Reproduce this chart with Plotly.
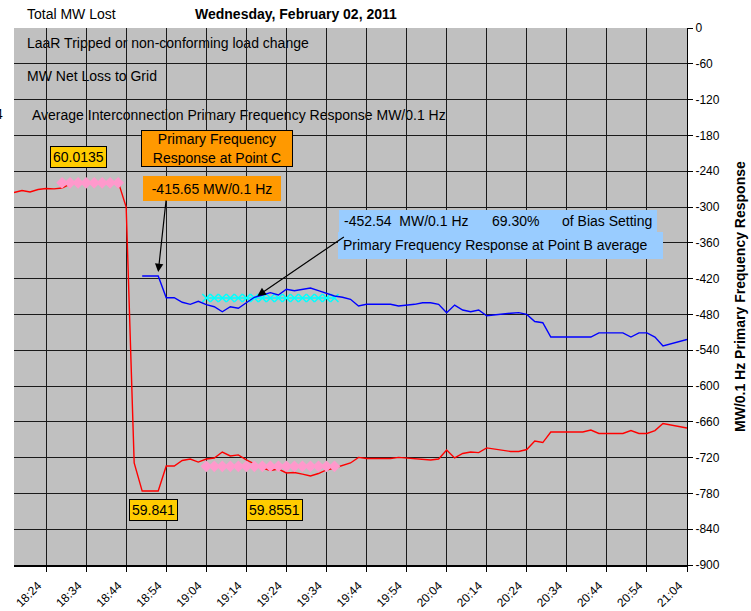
import plotly.graph_objects as go

# sample times, seconds after 18:24 (one sample every 2 s)
t = list(range(-8, 161, 2))

tick_vals = list(range(0, 161, 10))
tick_text = ['18:24', '18:34', '18:44', '18:54', '19:04', '19:14', '19:24', '19:34', '19:44',
             '19:54', '20:04', '20:14', '20:24', '20:34', '20:44', '20:54', '21:04']

# interconnection frequency (Hz), left axis (cut off in the picture)
freq = [60.0081, 60.0092, 60.0084, 60.0098, 60.0103, 60.0101, 60.0106, 60.0128,
        60.0134, 60.0137, 60.0140, 60.0140, 60.0142, 60.0142,
        60.0000, 59.8570, 59.8413, 59.8413, 59.8413, 59.8553, 59.8553, 59.8584,
        59.8592, 59.8575, 59.8592, 59.8598, 59.8631, 59.8609, 59.8615, 59.8587,
        59.8564, 59.8542, 59.8528, 59.8536, 59.8514, 59.8517, 59.8508, 59.8497,
        59.8511, 59.8531, 59.8542, 59.8556, 59.8570, 59.8601, 59.8595, 59.8595,
        59.8595, 59.8595, 59.8601, 59.8598, 59.8595, 59.8589, 59.8587, 59.8592,
        59.8642, 59.8598, 59.8623, 59.8631, 59.8628, 59.8654, 59.8648, 59.8642,
        59.8634, 59.8634, 59.8645, 59.8693, 59.8684, 59.8743, 59.8743, 59.8743,
        59.8743, 59.8743, 59.8754, 59.8735, 59.8735, 59.8735, 59.8735, 59.8751,
        59.8735, 59.8735, 59.8751, 59.8790, 59.8782, 59.8774, 59.8765]

# primary frequency response (MW/0.1 Hz), right axis
resp_t = t[16:]
resp = [-415.65, -415.65, -415.65, -452.0, -452.0, -459.7, -463.1, -458.1, -463.7,
        -467.1, -475.5, -467.1, -469.8, -460.4, -451.3, -447.5, -443.6, -447.5,
        -437.9, -440.3, -437.9, -435.8, -440.3, -444.6, -449.2, -451.3, -454.7,
        -465.9, -463.1, -463.1, -463.1, -463.1, -465.9, -464.8, -463.1, -460.4,
        -460.4, -463.1, -477.2, -464.3, -472.6, -475.5, -472.6, -482.2, -480.5,
        -479.0, -478.0, -477.0, -480.0, -492.0, -494.0, -518.0, -518.0, -518.0,
        -518.0, -518.0, -518.0, -511.0, -511.0, -511.0, -511.0, -518.0, -511.0,
        -511.0, -518.0, -533.0, -529.0, -525.5, -522.0]

# averaging windows
pre_t = [4, 6, 8, 10, 12, 14, 16, 18]
pre_avg = 60.0135
post_t = [40, 42, 44, 46, 48, 50, 52, 54, 56, 58, 60, 62, 64, 66, 68, 70, 72]
post_avg = 59.8551
point_b = -452.54
point_c = -415.65

y_vals = list(range(0, -901, -60))

FONT = "Arial, 'Liberation Sans', sans-serif"
L, R, T, B = 14, 687, 28, 565


def px(x):
    return (x - L) / (R - L)


def py(y):
    return (B - y) / (B - T)


fig = go.Figure()

fig.add_trace(go.Scatter(x=t, y=freq, yaxis='y2', mode='lines',
                         line=dict(color='#FF0000', width=1.4)))
fig.add_trace(go.Scatter(x=pre_t, y=[pre_avg] * len(pre_t), yaxis='y2', mode='lines+markers',
                         line=dict(color='#FF99CC', width=2),
                         marker=dict(symbol='diamond', size=9, color='#FF99CC')))
fig.add_trace(go.Scatter(x=post_t, y=[post_avg] * len(post_t), yaxis='y2', mode='lines+markers',
                         line=dict(color='#FF99CC', width=2),
                         marker=dict(symbol='diamond', size=9, color='#FF99CC')))
fig.add_trace(go.Scatter(x=post_t, y=[point_b] * len(post_t), mode='lines+markers',
                         line=dict(color='#00FFFF', width=1.5),
                         marker=dict(symbol='x-thin', size=8, color='#00FFFF',
                                     line=dict(width=1.5, color='#00FFFF'))))
fig.add_trace(go.Scatter(x=resp_t, y=resp, mode='lines',
                         line=dict(color='#0000FF', width=1.4)))

# legend-like rows sitting under the grid
rows = [('LaaR Tripped or non-conforming load change', 24, 42),
        ('MW Net Loss to Grid', 24, 75),
        ('Average Interconnection Primary Frequency Response MW/0.1 Hz', 29, 114)]
for text, x0, yy in rows:
    fig.add_shape(type='rect', xref='paper', yref='paper', layer='below',
                  x0=px(x0), x1=px(x0 + 440), y0=py(yy + 9), y1=py(yy - 9),
                  line_width=0, fillcolor='rgba(0,0,0,0)',
                  label=dict(text=text, textposition='middle left', padding=0,
                             font=dict(family=FONT, size=14, color='black')))

# light blue boxes for point B
fig.add_shape(type='rect', xref='paper', yref='paper', x0=px(339), x1=px(657),
              y0=py(232), y1=py(210), fillcolor='#99CCFF', line_width=0)
fig.add_shape(type='rect', xref='paper', yref='paper', x0=px(338), x1=px(663),
              y0=py(259), y1=py(232), fillcolor='#99CCFF', line_width=0)

annos = []


def label(text, x, y, size=14, anchor='left', bold=False, **kw):
    if bold:
        text = '<b>' + text + '</b>'
    a = dict(text=text, xref='paper', yref='paper', x=px(x), y=py(y),
             xanchor=anchor, yanchor='middle', showarrow=False,
             font=dict(family=FONT, size=size, color='black'))
    a.update(kw)
    annos.append(a)


label('Total MW Lost', 25, 14)
label('Wednesday, February 02, 2011', 193, 14, bold=True)
label('4', 5, 114, anchor='right')

label('-452.54  MW/0.1 Hz', 342, 221)
label('69.30%', 490, 221)
label('of Bias Setting', 560, 221)
label('Primary Frequency Response at Point B average', 341, 245)

label('60.0135', 78, 157, anchor='center', bgcolor='#FFCC00', bordercolor='black',
      borderwidth=1, borderpad=2)
label('59.841', 153.5, 510, anchor='center', bgcolor='#FFCC00', bordercolor='black',
      borderwidth=1, borderpad=2)
label('59.8551', 274, 510, anchor='center', bgcolor='#FFCC00', bordercolor='black',
      borderwidth=1, borderpad=2)
label('Primary Frequency<br>Response at Point C', 216.5, 148.5, anchor='center',
      bgcolor='#FF9900', bordercolor='black', borderwidth=1, borderpad=1,
      width=148, height=33)
label('-415.65 MW/0.1 Hz', 212, 188.5, anchor='center', bgcolor='#FF9900',
      borderwidth=0, width=136, height=23)

label('MW/0.1 Hz Primary Frequency Response', 740, 297, anchor='center', bold=True,
      textangle=-90)

# arrows
annos.append(dict(x=28, y=-409, xref='x', yref='y', text='', showarrow=True,
                  ax=8, ay=-73, arrowhead=2, arrowsize=1.4, arrowwidth=1.2,
                  arrowcolor='black'))
annos.append(dict(x=52.75, y=-449, xref='x', yref='y', text='', showarrow=True,
                  ax=88, ay=-60, arrowhead=2, arrowsize=1.4, arrowwidth=1.2,
                  arrowcolor='black'))

fig.update_layout(
    width=751,
    height=611,
    margin=dict(l=L, r=751 - R, t=T, b=611 - B, pad=0, autoexpand=False),
    plot_bgcolor='#C0C0C0',
    paper_bgcolor='white',
    showlegend=False,
    font=dict(family=FONT, size=12, color='black'),
    annotations=annos,
    xaxis=dict(range=[-8, 160], tickmode='array', tickvals=tick_vals, ticktext=tick_text,
               tickangle=-45, showgrid=True, gridcolor='#1a1a1a', gridwidth=1,
               ticks='outside', ticklen=5, tickcolor='black', showline=True,
               linecolor='black', linewidth=2, zeroline=False, automargin=False,
               ticklabelshift=-8, ticklabelstandoff=2,
               tickfont=dict(size=12)),
    yaxis=dict(range=[-900, 0], side='right', tickmode='array', tickvals=y_vals,
               ticktext=[str(v) for v in y_vals], showgrid=True, gridcolor='#1a1a1a',
               gridwidth=1, ticks='outside', ticklen=5, tickcolor='black',
               showline=True, linecolor='black', linewidth=1, zeroline=False,
               automargin=False, tickfont=dict(size=12)),
    yaxis2=dict(range=[59.8, 60.1], overlaying='y', side='left', visible=False),
)

fig.write_html("out.html", config={'displayModeBar': False},
               post_script="document.body.style.margin = '0';")
